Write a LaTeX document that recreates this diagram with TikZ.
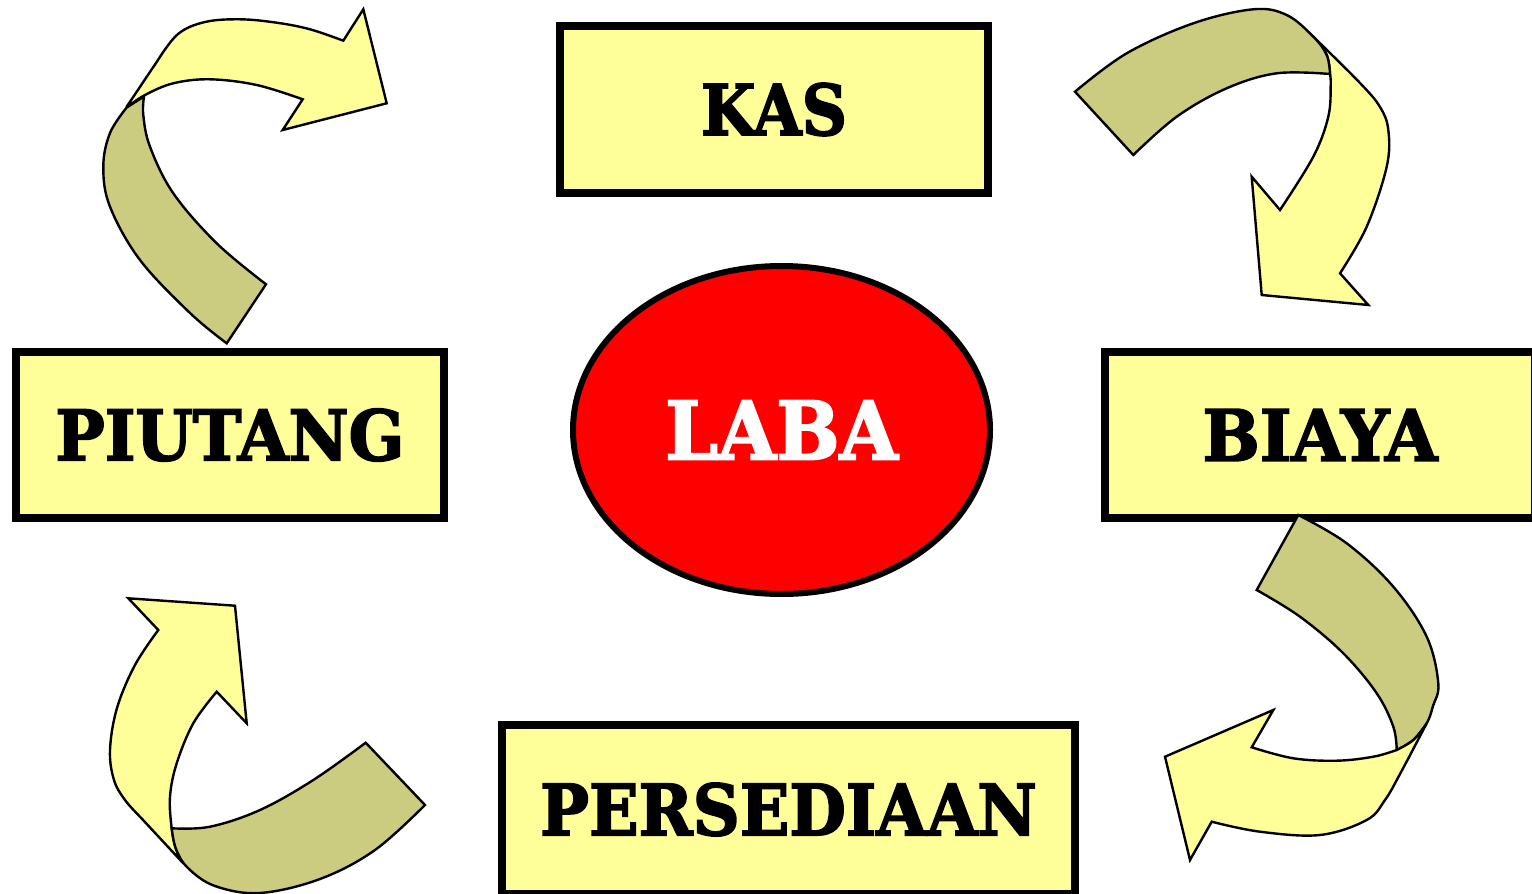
\documentclass[tikz,border=0pt]{standalone}
\usepackage{fontspec}
\setmainfont{DejaVu Serif}[BoldFeatures={FakeBold=2.5}]
\usepackage{graphicx}
\usetikzlibrary{shapes.geometric}
\definecolor{boxyellow}{RGB}{255,255,153}
\definecolor{folddark}{RGB}{204,204,128}
\definecolor{labared}{RGB}{255,0,0}
\newcommand{\lbl}[3]{\resizebox{#1}{#2}{\bfseries #3}}
\begin{document}
\begin{tikzpicture}[x=1pt,y=-1pt,
  box/.style={draw=black, line width=7.7pt, fill=boxyellow, inner sep=0pt},
  ribbon/.style={draw=black, line width=2.4pt, line join=miter, fill=boxyellow},
  ribbonback/.style={ribbon, fill=folddark},
  smoothline/.style={smooth, tension=0.6}]
\useasboundingbox (0,0) rectangle (1532,894);
\clip (0,0) rectangle (1532,894);

% boxes
\node[box, minimum width=428pt, minimum height=167pt] (kas) at (774,109.5) {\lbl{146pt}{52pt}{KAS}};
\node[box, minimum width=428pt, minimum height=166pt] (piutang) at (230,435) {\lbl{349pt}{51.7pt}{PIUTANG}};
\node[box, minimum width=430pt, minimum height=166pt] (biaya) at (1320,435) {\lbl{235pt}{51.7pt}{BIAYA}};
\node[box, minimum width=573pt, minimum height=169pt] (persediaan) at (788.5,809.5) {\lbl{496.7pt}{52.3pt}{PERSEDIAAN}};
\node[draw=black, ellipse, line width=6pt, fill=labared, inner sep=0pt,
      minimum width=417pt, minimum height=328pt] (laba) at (781.5,430)
      {\color{white}\lbl{232.6pt}{58.7pt}{LABA}};

% top-left arrow (PIUTANG -> KAS)
\filldraw[ribbon] (126.7,106.7) -- (158,60)
  -- plot[smoothline] coordinates {(158,60) (178,34) (205,22) (240,19.3) (276.7,22.7) (310,29.3) (343.3,40.7)}
  -- (363.3,9.3) -- (386.7,103.3) -- (282.7,130) -- (302.7,99.3)
  -- plot[smoothline] coordinates {(302.7,99.3) (256.7,85) (210,79.3) (173.3,83.3) (145,95) (126.7,107.5)} -- cycle;
\filldraw[ribbonback] plot[smoothline] coordinates {(126.7,107.5) (110,133) (103.3,166.7) (110,206.7) (140,260) (190,313) (226.7,343.3)}
  -- (266,284.3)
  -- plot[smoothline] coordinates {(266,284.3) (216.7,243.3) (173.3,193.3) (150,146.7) (143.3,115) (144,96.5)} -- cycle;

% top-right arrow (KAS -> BIAYA)
\filldraw[ribbon] plot[smoothline] coordinates {(1313.3,36.7) (1360,83) (1380,107) (1388.3,130) (1386.7,166.7) (1366.7,226.7) (1340,273.3)}
  -- (1368.3,305) -- (1261.7,295) -- (1251.7,176.7) -- (1280,210)
  -- plot[smoothline] coordinates {(1280,210) (1313.3,156.7) (1328.3,116.7) (1330.7,85) (1330,74)}
  -- plot[smoothline] coordinates {(1330,74) (1326.7,55) (1313.3,36.7)} -- cycle;
\filldraw[ribbonback] plot[smoothline] coordinates {(1075,91.7) (1126.7,53.3) (1193.3,23.3) (1253.3,9.3) (1286.7,15) (1313.3,36.7) (1326.7,55) (1330,74)}
  -- plot[smoothline] coordinates {(1330,74) (1276.7,73.3) (1226.7,88.3) (1176.7,116.7) (1133.3,155)} -- cycle;

% bottom-right arrow (BIAYA -> PERSEDIAAN)
\filldraw[ribbonback] plot[smoothline] coordinates {(1298.3,515) (1346.7,543.3) (1393.3,586.7) (1426.7,636.7) (1438.3,683.3) (1433,706) (1426.7,723.3) (1413.3,740) (1396.7,750)}
  -- plot[smoothline] coordinates {(1396.7,750) (1393.3,726.7) (1376.7,693.3) (1343.3,653.3) (1300,616.7) (1256.7,590)} -- cycle;
\filldraw[ribbon] plot[smoothline] coordinates {(1426.7,723.3) (1400,774) (1385,800) (1366.7,820) (1320,835) (1260,831.7) (1211.7,821.7)}
  -- (1190,860) -- (1165,756.7) -- (1273.3,710) -- (1251.7,747.3)
  -- plot[smoothline] coordinates {(1251.7,747.3) (1293.3,758.3) (1336.7,760.7) (1373.3,756.7) (1396.7,750)}
  -- plot[smoothline] coordinates {(1396.7,750) (1413.3,740) (1426.7,723.3)} -- cycle;

% bottom-left arrow (PERSEDIAAN -> PIUTANG)
\filldraw[ribbon] (158.3,630) -- (128.3,598.3) -- (235,605.7) -- (246.7,723.3) -- (216.7,691.7)
  -- plot[smoothline] coordinates {(216.7,691.7) (193.3,723.3) (176.7,763.3) (170,796.7) (171.7,828.3) (176,849) (183.3,863.3)}
  -- (140,816.7)
  -- plot[smoothline] coordinates {(140,816.7) (125,800) (114,780) (110,750) (117,708) (135,665) (158.3,630)} -- cycle;
\filldraw[ribbonback] plot[smoothline] coordinates {(171.7,828.3) (176,849) (188,868) (215,886) (260,893) (320,879) (375,850) (425,805)}
  -- (365.7,742.7)
  -- plot[smoothline] coordinates {(365.7,742.7) (313.3,780) (260,810) (210,826.7) (171.7,828.3)} -- cycle;
\end{tikzpicture}
\end{document}
